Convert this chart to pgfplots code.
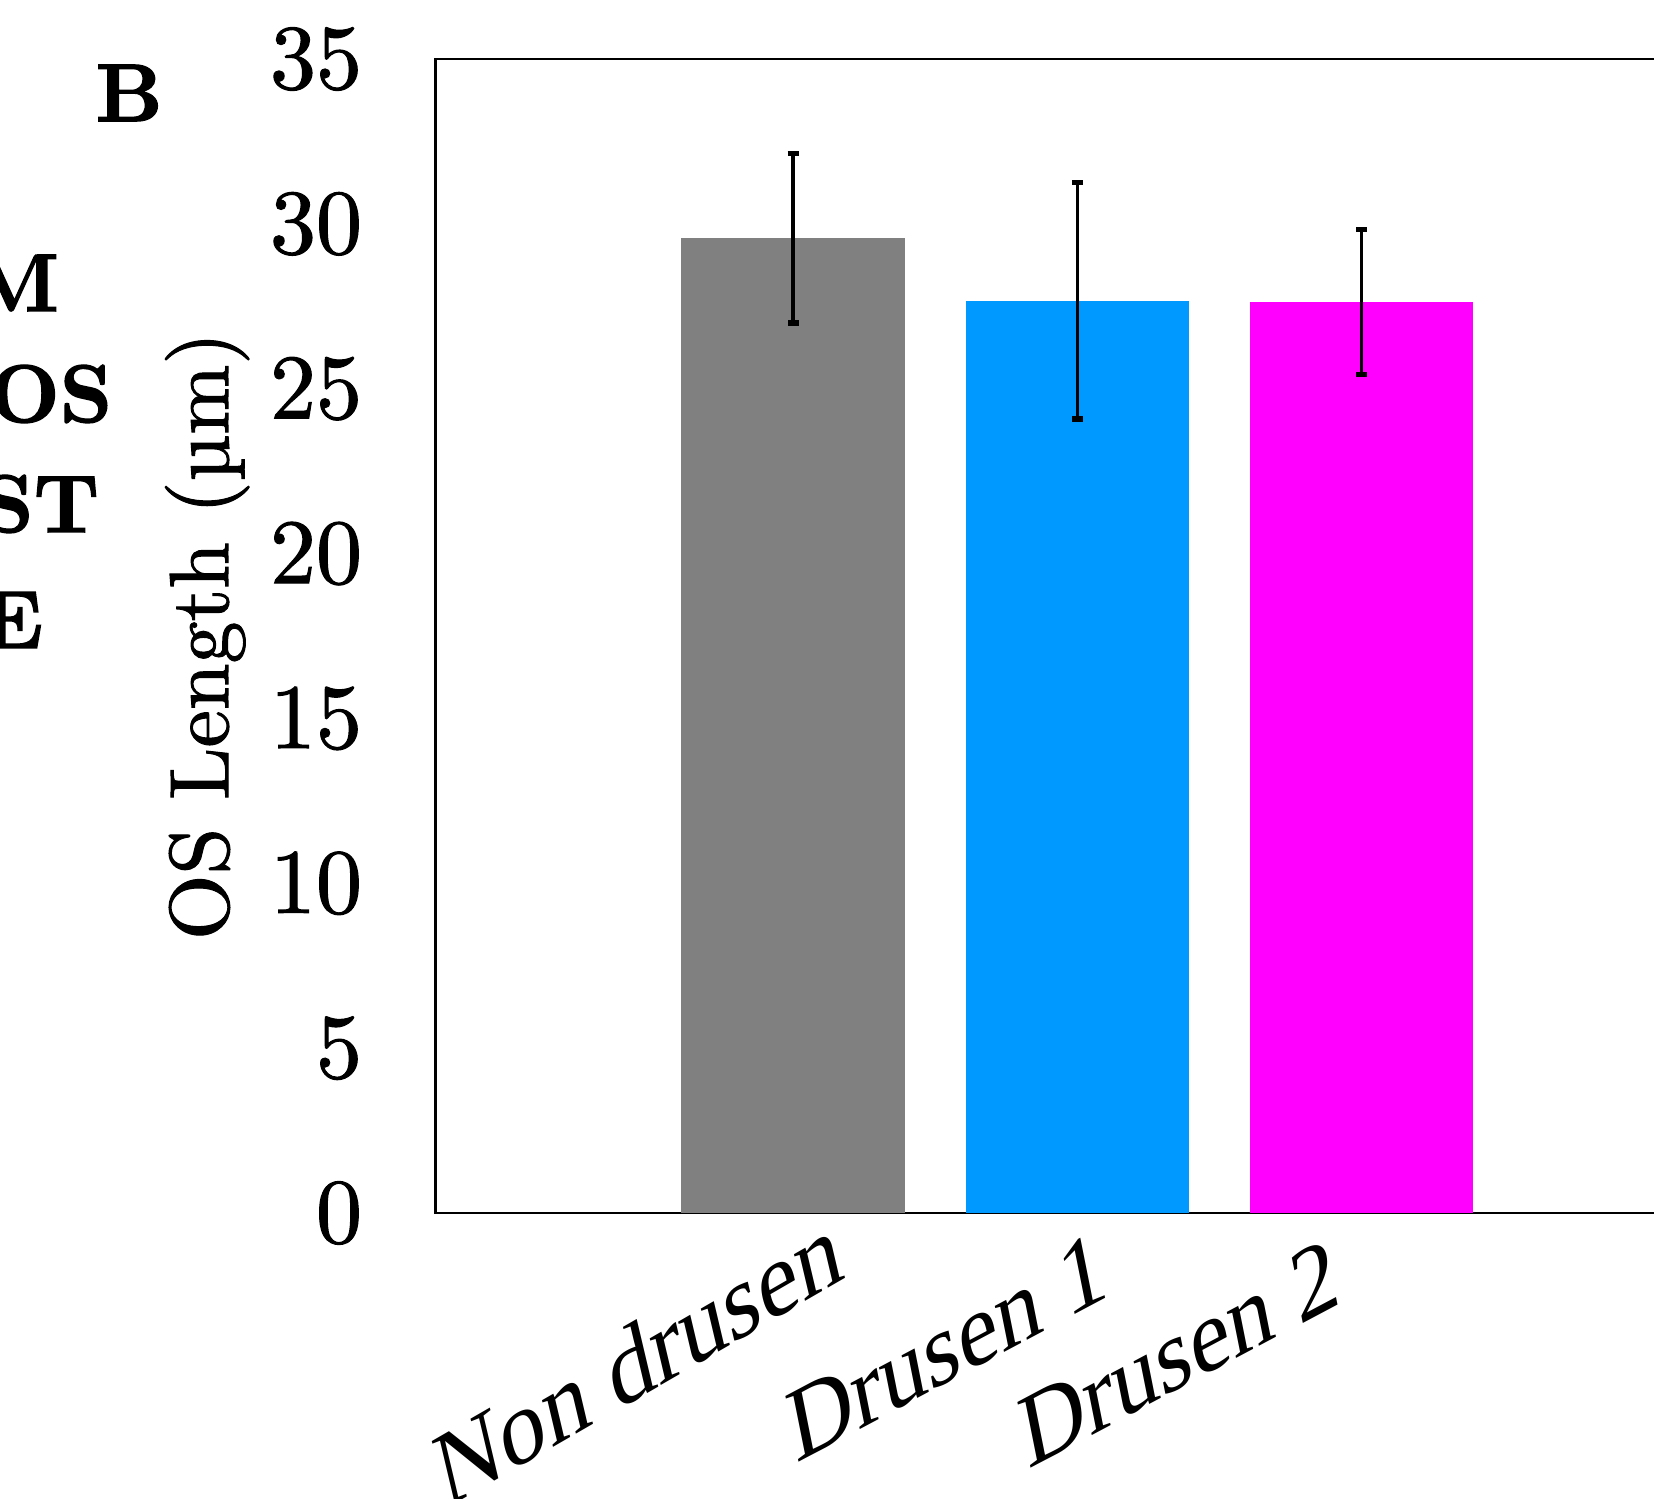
\documentclass[border=0pt]{standalone}
\usepackage{pgfplots}
\pgfplotsset{compat=1.18}
\usepackage{fontspec}
\newfontfamily\timesfont{Liberation Serif}
\newfontfamily\lmheavy{lmroman10-regular.otf}[FakeBold=1.2]
\newfontfamily\lmblack{lmroman10-bold.otf}[FakeBold=1.6]
\definecolor{barGray}{RGB}{128,128,128}
\definecolor{barBlue}{RGB}{0,153,255}
\definecolor{barMagenta}{RGB}{255,0,255}

\begin{document}
\begin{tikzpicture}
\begin{axis}[
  at={(108.9pt,71.5pt)}, anchor=south west,
  scale only axis, width=320.9pt, height=288.5pt,
  xmin=-1.258, xmax=3.258, ymin=0, ymax=35,
  ytick={0,5,...,35}, xtick=\empty,
  major tick length=0pt,
  axis line style={line width=0.6pt},
  ybar, bar width=55.9pt,
  /pgf/number format/assume math mode=true,
  tick label style={font=\lmheavy\fontsize{23}{27}\selectfont},
  yticklabel style={anchor=east, inner sep=0pt, xshift=-18.2pt},
  ylabel={OS Length (µm)},
  ylabel style={font=\lmheavy\fontsize{21}{25}\selectfont, at={(axis description cs:-0.1446,0.5)}, anchor=south, inner sep=0pt},
  clip=false,
  error bars/error bar style={line width=0.9pt, draw=black},
  error bars/error mark options={rotate=90, mark size=1.4pt, line width=1.3pt, draw=black},
]
% Non drusen
\addplot[fill=barGray, draw=none, bar shift=0pt,
  error bars/.cd, y dir=both, y explicit]
  coordinates {(0,29.56) +- (0,2.57)};
% Drusen 1
\addplot[fill=barBlue, draw=none, bar shift=0pt,
  error bars/.cd, y dir=both, y explicit]
  coordinates {(1,27.67) +- (0,3.59)};
% Drusen 2
\addplot[fill=barMagenta, draw=none, bar shift=0pt,
  error bars/.cd, y dir=both, y explicit]
  coordinates {(2,27.64) +- (0,2.20)};
\end{axis}

% rotated category labels
\node[font=\timesfont\fontsize{25}{29}\selectfont, rotate=30, xslant=0.3] at (159.5pt,35pt) {Non drusen};
\node[font=\timesfont\fontsize{24.5}{29}\selectfont, rotate=28, xslant=0.3] at (236.8pt,38pt) {Drusen 1};
\node[font=\timesfont\fontsize{24.5}{29}\selectfont, rotate=28, xslant=0.3] at (294.8pt,36.5pt) {Drusen 2};

% panel letter and labels of the neighbouring panel
\node[font=\lmblack\fontsize{20.5}{24}\selectfont] at (32.3pt,351.5pt) {B};
\node[anchor=east, inner sep=0pt, font=\lmblack\fontsize{20.5}{24}\selectfont] at (15pt,304pt) {M};
\node[anchor=east, inner sep=0pt, font=\lmblack\fontsize{20.5}{24}\selectfont] at (28.25pt,276.25pt) {OS};
\node[anchor=east, inner sep=0pt, font=\lmblack\fontsize{20.5}{24}\selectfont] at (25pt,248.75pt) {ST};
\node[anchor=east, inner sep=0pt, font=\lmblack\fontsize{20.5}{24}\selectfont] at (11pt,219.75pt) {E};

\pgfresetboundingbox
\useasboundingbox (0,0) rectangle (413.5pt,374.75pt);
\end{tikzpicture}
\end{document}
